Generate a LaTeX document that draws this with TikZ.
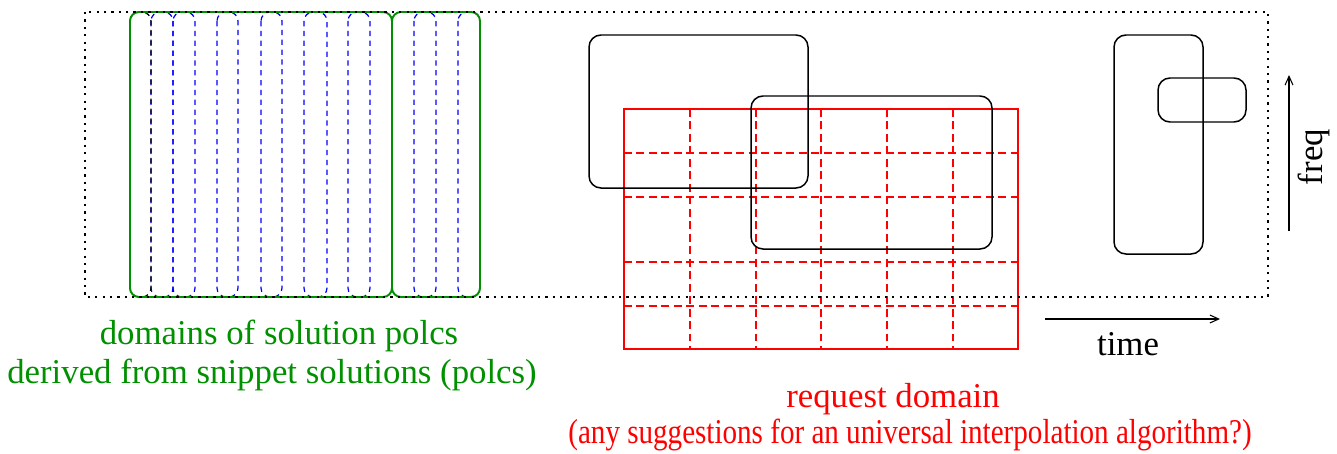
\documentclass[tikz,border=0pt]{standalone}
\usepackage{fontspec}
\setmainfont{Liberation Serif}
\usetikzlibrary{arrows.meta}
\definecolor{figgreen}{RGB}{0,144,0}

\begin{document}
\begin{tikzpicture}[x=0.02cm, y=-0.02cm, font=\fontsize{19.8}{24}\selectfont,
	polc/.style={figgreen, line width=1.1pt, rounded corners=0.18cm},
	snip/.style={blue, line width=0.7pt, dash pattern=on 3pt off 2.6pt, rounded corners=0.18cm},
	dom/.style={black, line width=0.85pt, rounded corners=0.24cm},
	reqgrid/.style={red, line width=0.6pt, dash pattern=on 4.5pt off 2.6pt},
	timeaxis/.style={line width=0.6pt, -{Straight Barb[length=5pt,width=4.5pt]}}]
	\useasboundingbox (0,0) rectangle (1337,453);
	
	% request domain with its grid
	\foreach \x in {690,756,821,887,953}	{
		\draw[reqgrid]	(\x,109) -- (\x,349);
	}
	\foreach \y in {153,197,262,306}	{
		\draw[reqgrid]	(624,\y) -- (1018,\y);
	}
	\draw[red, line width=0.85pt]	(624,109) rectangle (1018,349);
	
	% snippet domains and solution polcs
	\foreach \a/\b in {151/173,173/195,217/238,261/282,304/327,348/370,414/436,458/480}	{
		\draw[snip]	(\a,12) rectangle (\b,297);
	}
	\draw[snip, black]	(130,12) rectangle (151,297);
	\draw[polc]	(130,12) rectangle (392,297);
	\draw[polc]	(392,12) rectangle (480,297);
	
	% other domains
	\draw[dom]	(589,35) rectangle (808,188);
	\draw[dom]	(751,96) rectangle (992,249);
	\draw[dom]	(1114,35) rectangle (1203,254);
	\draw[dom]	(1158,78) rectangle (1246,122);
	
	\draw[black, line width=1.3pt, dash pattern=on 1.3pt off 2.9pt]	(85,12) rectangle (1268,297);
	
	% axes
	\coordinate (t0) at (1045,319);
	\coordinate (t1) at (1220,319);
	\coordinate (f0) at (1289,231);
	\coordinate (f1) at (1289,75);
	\draw[timeaxis]	(t0) -- (t1);
	\draw[timeaxis]	(f0) -- (f1);
	\node[anchor=base] (time) at (1128,355) {time};
	\node[anchor=base, rotate=90] (freq) at (1322,157) {freq};
	
	\node[figgreen, anchor=base] (polcs) at (279,344) {domains of solution polcs};
	\node[figgreen, anchor=base] (snippets) at (272,383) {derived from snippet solutions (polcs)};
	\node[red, anchor=base] (request) at (893,407) {request domain};
	\node[red, anchor=base] (hint) at (910,443) {\scalebox{0.836}[1]{(any suggestions for an universal interpolation algorithm?)}};
\end{tikzpicture}
\end{document}
